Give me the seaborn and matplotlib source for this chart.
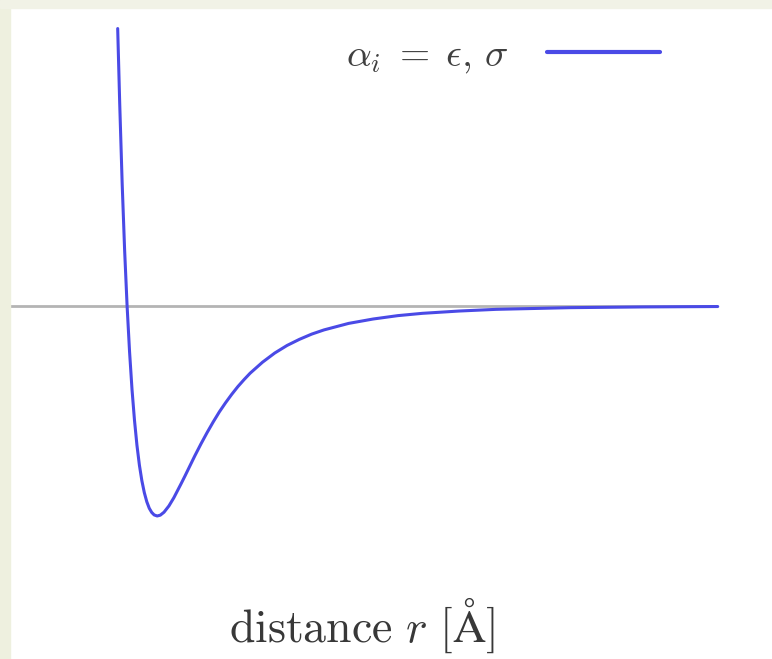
import numpy as np
import pandas as pd
import matplotlib
matplotlib.use("Agg")
import matplotlib.pyplot as plt
from matplotlib.patches import Rectangle
import seaborn as sns

# values (r in Angstrom, V in units of epsilon)
r_vals = [3.27, 3.298, 3.332, 3.366, 3.40, 3.434, 3.468, 3.502, 3.536, 3.57,
          3.604, 3.638, 3.672, 3.706, 3.74, 3.774, 3.816, 3.859, 3.91, 3.978,
          4.046, 4.148, 4.199, 4.25, 4.335, 4.42, 4.505, 4.59, 4.675, 4.76,
          4.845, 4.93, 5.015, 5.10, 5.27, 5.44, 5.61, 5.78, 5.95, 6.12,
          6.46, 6.80, 7.14, 7.48, 7.99, 8.50, 9.52, 10.54, 11.56]
v_vals = [1.321, 0.963, 0.582, 0.264, 0.0, -0.218, -0.398, -0.544, -0.663, -0.758,
          -0.832, -0.889, -0.932, -0.963, -0.983, -0.995, -1.0, -0.996, -0.982, -0.952,
          -0.913, -0.845, -0.810, -0.774, -0.714, -0.657, -0.603, -0.552, -0.504, -0.461,
          -0.421, -0.384, -0.351, -0.320, -0.268, -0.224, -0.188, -0.159, -0.134, -0.114,
          -0.083, -0.062, -0.046, -0.035, -0.024, -0.016, -0.008, -0.0045, -0.0026]
legend_label = r"$\alpha_i\;=\;\epsilon,\,\sigma$"
x_label = r"$\mathrm{distance}\ r\ [\mathrm{\AA}]$"

df = pd.DataFrame({"r": r_vals, "V": v_vals})

sns.set_theme(style="white")
plt.rcParams["font.family"] = ["DejaVu Serif"]
plt.rcParams["mathtext.fontset"] = "cm"

fig = plt.figure(figsize=(7.72, 6.59), dpi=100)
ax = fig.add_axes([0, 0, 1, 1])

# zero line
ax.axhline(0, xmin=10 / 772, xmax=715 / 772, color="#b4b4b4", lw=2, zorder=1)

sns.lineplot(data=df, x="r", y="V", ax=ax, color="#4a4ae6", lw=2.2,
             estimator=None, sort=False, label=legend_label, zorder=2)

ax.set_xlim(1.644, 12.31)
ax.set_ylim(-1.681, 1.457)
ax.set_xticks([])
ax.set_yticks([])
ax.set_ylabel("")
for s in ax.spines.values():
    s.set_visible(False)

leg = ax.legend(loc="center right", bbox_to_anchor=(660 / 772, 1 - 56 / 659),
                frameon=False, markerfirst=False, fontsize=28,
                handlelength=2.9, handletextpad=1.0, borderpad=0, borderaxespad=0)
for t in leg.get_texts():
    t.set_color("#404040")
for h in leg.get_lines():
    h.set_linewidth(3)

ax.set_xlabel(x_label, fontsize=33, color="#383838")
ax.xaxis.set_label_coords(362 / 772, 17 / 659)
ax.xaxis.label.set_va("baseline")

# beige frame on left and top
fig.add_artist(Rectangle((0, 0), 10 / 772, 1, transform=fig.transFigure,
                         color="#eef0df", zorder=5))
fig.add_artist(Rectangle((0, 1 - 8 / 659), 1, 8 / 659, transform=fig.transFigure,
                         color="#f1f2e6", zorder=5))

fig.savefig("out.png", dpi=100)
